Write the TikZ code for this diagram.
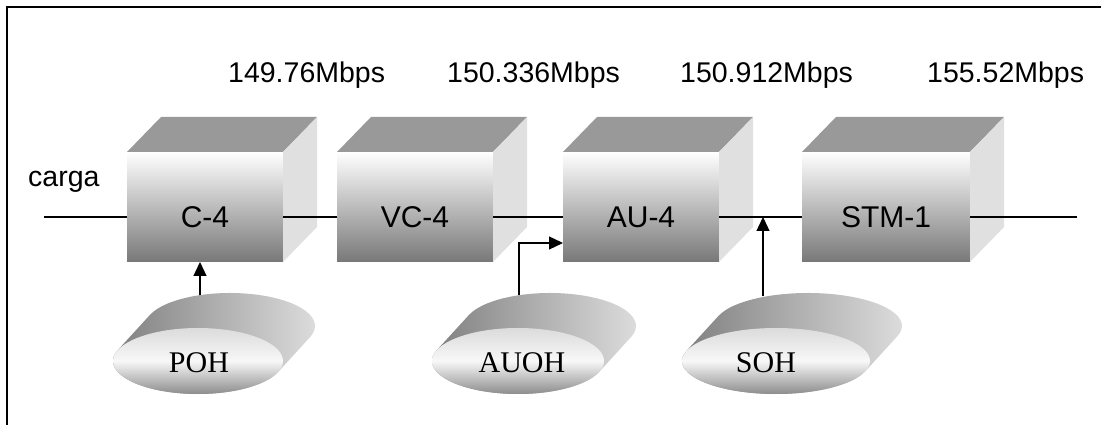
\documentclass[tikz,border=0pt]{standalone}
\usepackage{fontspec}
\setmainfont{Liberation Sans}
\newfontfamily\ohfont{Liberation Serif}
\usetikzlibrary{arrows.meta}

\tikzset{
  x=1pt, y=1pt,
  face/.style={shade, top color=white, bottom color=black!53, draw=none,
               minimum height=110pt, inner sep=0pt, outer sep=0pt},
  topface/.style={fill=black!40},
  sideface/.style={fill=black!12},
  boxlabel/.style={font=\fontsize{30}{34}\selectfont, anchor=base, inner sep=0pt},
  rate/.style={font=\fontsize{28.5}{32}\selectfont, anchor=base west, inner sep=0pt},
  ohlabel/.style={font=\ohfont\fontsize{30}{34}\selectfont, anchor=base, inner sep=0pt},
  wire/.style={line width=1.3pt},
  feed/.style={line width=1.3pt, -{Triangle[length=14pt,width=13pt]}},
  frameline/.style={line width=2pt},
}

% block drawn as a shaded box with a top and a side face
% #1 name, #2 centre x, #3 width, #4 label
\newcommand\blockcube[4]{%
  \node[face, minimum width=#3] (#1) at (#2,218) {};
  \fill[topface] (#1.north west) -- ++(34,35) -- ++(#3,0) -- (#1.north east) -- cycle;
  \fill[sideface] (#1.north east) -- ++(34,35) -- ++(0,-110) -- (#1.south east) -- cycle;
  \node[boxlabel] (#1-text) at (#2,197) {#4};
}

% overhead disc: front ellipse swept back by (32,35)
% #1 cx, #2 cy, #3 rx, #4 ry
\newcommand\ohdisc[4]{%
  \pgfmathsetmacro\tanga{atan(-(32*#4)/(35*#3))}
  \pgfmathsetmacro\tangb{\tanga+180}
  \pgfmathsetmacro\tangc{\tanga-180}
  \pgfmathsetmacro\ax{#1+#3*cos(\tangb)}
  \pgfmathsetmacro\ay{#2+#4*sin(\tangb)}
  \shade[left color=black!52, right color=black!12]
    (\ax,\ay) -- ++(32,35)
    arc[start angle=\tangb, end angle=\tanga, x radius=#3pt, y radius=#4pt]
    -- ++(-32,-35)
    arc[start angle=\tanga, end angle=\tangc, x radius=#3pt, y radius=#4pt] -- cycle;
  \shade[top color=black!14, bottom color=black!45, middle color=black!3]
    (#1,#2) ellipse[x radius=#3pt, y radius=#4pt];
}

\begin{document}
\begin{tikzpicture}
\useasboundingbox (0,0) rectangle (1101,425);

% frame
\draw[frameline] (1101,418) -- (7,418) -- (7,0);

% bit rates
\node[rate] (r1) at (228,342) {149.76Mbps};
\node[rate] (r2) at (447,342) {150.336Mbps};
\node[rate] (r3) at (680,342) {150.912Mbps};
\node[rate] (r4) at (927,342) {155.52Mbps};
\node[rate] (carga) at (28,238) {carga};

% multiplexing blocks
\blockcube{c4}{205}{156}{C-4}
\blockcube{vc4}{415}{156}{VC-4}
\blockcube{au4}{641}{156}{AU-4}
\blockcube{stm}{886}{168}{STM-1}

% main signal path
\coordinate (feedin) at (44,208);
\coordinate (feedout) at (1077,208);
\coordinate (tap) at (763,208);
\draw[wire] (feedin) -- (feedin -| c4.west);
\draw[wire] (c4.east |- feedin) -- (feedin -| vc4.west);
\draw[wire] (vc4.east |- feedin) -- (feedin -| au4.west);
\draw[wire] (au4.east |- feedin) -- (feedin -| stm.west);
\draw[wire] (stm.east |- feedin) -- (feedout);

% overheads
\ohdisc{198}{64}{85}{33}
\ohdisc{518}{64}{86}{33}
\ohdisc{776}{64}{94}{33}
\node[ohlabel] (poh) at (199,52) {POH};
\node[ohlabel] (auoh) at (522,52) {AUOH};
\node[ohlabel] (soh) at (766,52) {SOH};

\coordinate (pohtop) at (200,129.5);
\coordinate (auohtop) at (519,129.5);
\coordinate (sohtop) at (763,128.5);
\draw[feed] (pohtop) -- (pohtop |- c4.south);
\draw[feed] (auohtop) |- ([yshift=-36pt]au4.west);
\draw[feed] (sohtop) -- (tap);
\end{tikzpicture}
\end{document}
